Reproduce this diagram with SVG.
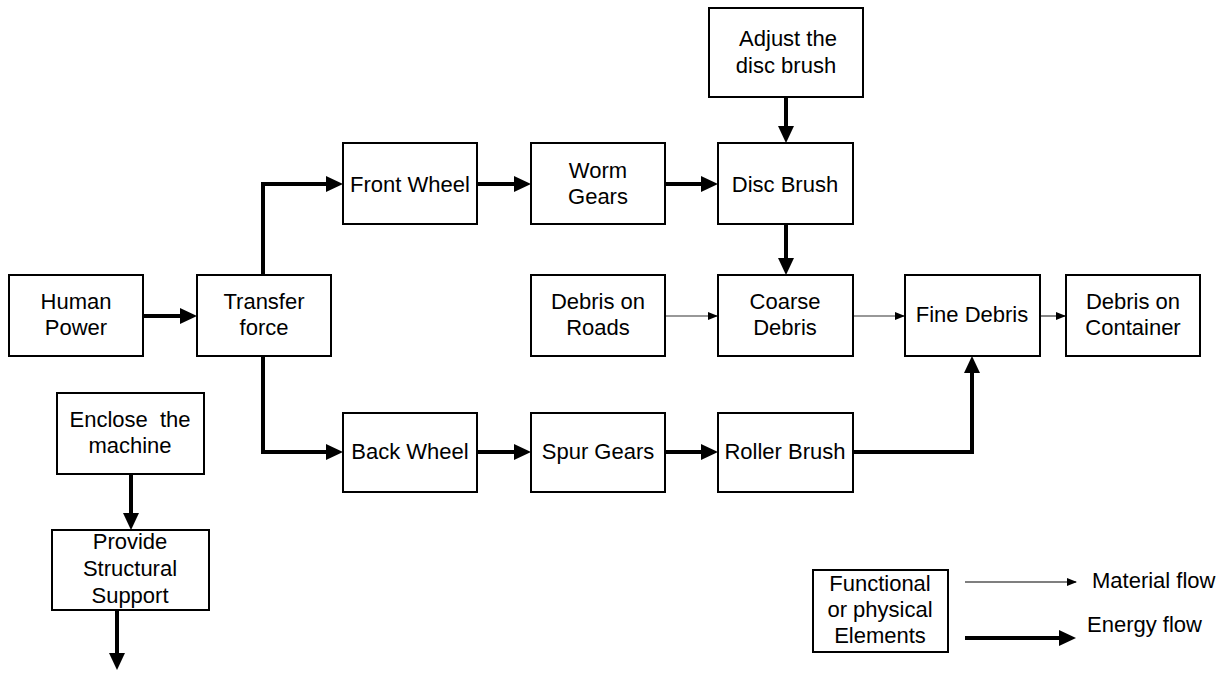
<svg xmlns="http://www.w3.org/2000/svg" width="1228" height="674" viewBox="0 0 1228 674">
<style>
.box{fill:#fff;stroke:#000;stroke-width:2}
text{font-family:"Liberation Sans",Arial,sans-serif;font-size:22px;fill:#000;text-anchor:middle}
.en{fill:none;stroke:#000;stroke-width:4}
.ma{fill:none;stroke:#333;stroke-width:1.2}
.lt{text-anchor:start}
</style>
<defs>
<marker id="ah" markerUnits="userSpaceOnUse" markerWidth="17" markerHeight="16" refX="9" refY="8" orient="auto" viewBox="0 0 17 16">
<path d="M0,0 L17,8 L0,16 z" fill="#000"/>
</marker>
<marker id="am" markerUnits="userSpaceOnUse" markerWidth="10" markerHeight="8" refX="9" refY="4" orient="auto" viewBox="0 0 10 8">
<path d="M0,0 L10,4 L0,8 z" fill="#000"/>
</marker>
</defs>
<g id="connectors">
<path class="en" d="M143,316 H189" marker-end="url(#ah)"/>
<path class="en" d="M263,275 V184 H335" marker-end="url(#ah)"/>
<path class="en" d="M263,356 V452 H335" marker-end="url(#ah)"/>
<path class="en" d="M477,184 H523" marker-end="url(#ah)"/>
<path class="en" d="M665,184 H710" marker-end="url(#ah)"/>
<path class="en" d="M786,97 V135" marker-end="url(#ah)"/>
<path class="en" d="M786,224 V267" marker-end="url(#ah)"/>
<path class="en" d="M477,452 H523" marker-end="url(#ah)"/>
<path class="en" d="M665,452 H710" marker-end="url(#ah)"/>
<path class="en" d="M853,452 H972 V364" marker-end="url(#ah)"/>
<path class="en" d="M131,474 V522" marker-end="url(#ah)"/>
<path class="en" d="M117,610 V662" marker-end="url(#ah)"/>
<path class="ma" d="M665,316 H717" marker-end="url(#am)"/>
<path class="ma" d="M853,316 H904" marker-end="url(#am)"/>
<path class="ma" d="M1040,316 H1065" marker-end="url(#am)"/>
</g>
<g id="adjust"><rect class="box" x="709" y="8" width="154" height="89"/><text x="788" y="46">Adjust the</text><text x="786" y="73">disc brush</text></g>
<g id="front-wheel"><rect class="box" x="343" y="143" width="134" height="81"/><text x="410" y="192">Front Wheel</text></g>
<g id="worm-gears"><rect class="box" x="531" y="143" width="134" height="81"/><text x="598" y="178">Worm</text><text x="598" y="204">Gears</text></g>
<g id="disc-brush"><rect class="box" x="718" y="143" width="135" height="81"/><text x="785" y="192">Disc Brush</text></g>
<g id="human-power"><rect class="box" x="9" y="275" width="134" height="81"/><text x="76" y="309">Human</text><text x="76" y="335">Power</text></g>
<g id="transfer-force"><rect class="box" x="197" y="275" width="134" height="81"/><text x="264" y="309">Transfer</text><text x="264" y="335">force</text></g>
<g id="debris-roads"><rect class="box" x="531" y="275" width="134" height="81"/><text x="598" y="309">Debris on</text><text x="598" y="335">Roads</text></g>
<g id="coarse-debris"><rect class="box" x="718" y="275" width="135" height="81"/><text x="785" y="309">Coarse</text><text x="785" y="335">Debris</text></g>
<g id="fine-debris"><rect class="box" x="905" y="275" width="135" height="81"/><text x="972" y="322">Fine Debris</text></g>
<g id="debris-container"><rect class="box" x="1066" y="275" width="134" height="81"/><text x="1133" y="309">Debris on</text><text x="1133" y="335">Container</text></g>
<g id="enclose"><rect class="box" x="57" y="393" width="147" height="81"/><text x="130" y="427" word-spacing="6">Enclose the</text><text x="130" y="453">machine</text></g>
<g id="back-wheel"><rect class="box" x="343" y="413" width="134" height="79"/><text x="410" y="459">Back Wheel</text></g>
<g id="spur-gears"><rect class="box" x="531" y="413" width="134" height="79"/><text x="598" y="459">Spur Gears</text></g>
<g id="roller-brush"><rect class="box" x="718" y="413" width="135" height="79"/><text x="785" y="459">Roller Brush</text></g>
<g id="provide"><rect class="box" x="52" y="530" width="157" height="80"/><text x="130" y="549">Provide</text><text x="130" y="576">Structural</text><text x="130" y="603">Support</text></g>
<g id="legend">
<rect class="box" x="813" y="570" width="135" height="82"/>
<text x="880" y="591">Functional</text><text x="880" y="617">or physical</text><text x="880" y="643">Elements</text>
<path d="M965,582 H1076" stroke="#000" stroke-width="1.2" fill="none" marker-end="url(#am)"/>
<text class="lt" x="1092" y="588">Material flow</text>
<path class="en" d="M965,638 H1068" marker-end="url(#ah)"/>
<text class="lt" x="1087" y="632">Energy flow</text>
</g>
</svg>
